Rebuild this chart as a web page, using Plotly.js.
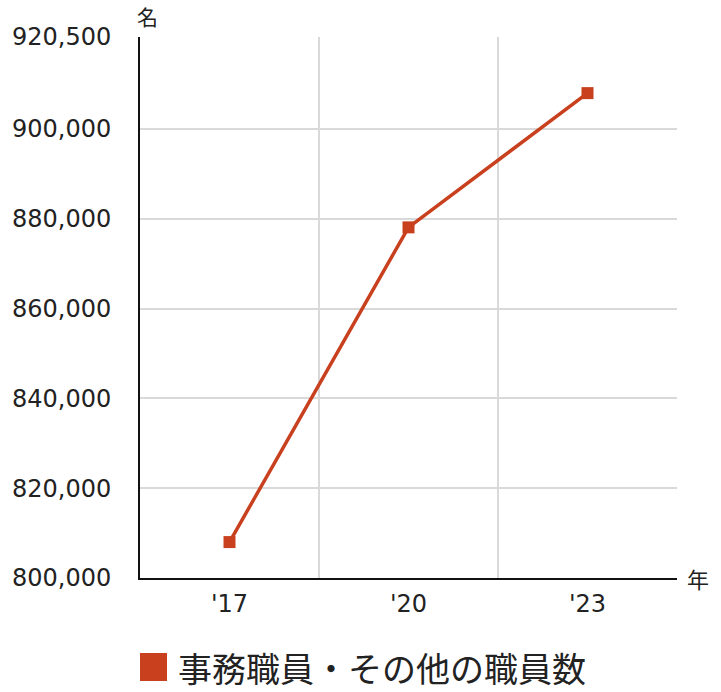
<!DOCTYPE html>
<html>
<head>
<meta charset="utf-8">
<script src="https://cdn.plot.ly/plotly-3.0.1.min.js"></script>
<style>
  html, body { margin: 0; padding: 0; background: #fff; }
  #plot { width: 721px; height: 692px; }
</style>
</head>
<body>
<div id="plot"></div>
<script>
const years = ["'17", "'20", "'23"];
const staff = [808000, 878100, 908000];
const yTicks = [800000, 820000, 840000, 860000, 880000, 900000, 920500];
const seriesName = '事務職員・その他の職員数';

const RED = 'rgb(200, 64, 30)';
const FONT = '"Noto Sans CJK JP", "Noto Sans", sans-serif';
const NUM_FONT = '"DejaVu Sans", sans-serif';

const xIdx = years.map((_, i) => i);

const trace = {
  x: xIdx,
  y: staff,
  name: seriesName,
  mode: 'lines+markers',
  type: 'scatter',
  line: { color: RED, width: 3.5 },
  marker: { color: RED, size: 12, symbol: 'square' },
  showlegend: false,
  hoverinfo: 'skip',
};

// plot area is 541px tall, legend sits below it
const PH = 541;

const layout = {
  width: 721,
  height: 692,
  margin: { l: 140, r: 44, t: 37, b: 114 },
  paper_bgcolor: '#fff',
  plot_bgcolor: '#fff',
  font: { family: FONT, size: 24, color: '#222' },
  showlegend: false,
  xaxis: {
    range: [-0.5, 2.5],
    tickvals: xIdx,
    ticktext: years,
    tickfont: { family: NUM_FONT, size: 24, color: '#222' },
    showgrid: false,
    zeroline: false,
    showline: true,
    linecolor: '#111',
    linewidth: 2,
    ticks: '',
    ticklabelstandoff: 3,
    minor: {
      tickvals: [0.5, 1.5, 2.5],
      showgrid: true,
      gridcolor: '#d9d9d9',
      gridwidth: 2,
      ticks: '',
    },
    fixedrange: true,
  },
  yaxis: {
    range: [800000, 920500],
    tickvals: yTicks,
    tickformat: ',',
    tickfont: { family: NUM_FONT, size: 24, color: '#222' },
    showgrid: true,
    gridcolor: '#d9d9d9',
    gridwidth: 2,
    zeroline: false,
    showline: true,
    linecolor: '#111',
    linewidth: 2,
    ticks: '',
    ticklabelstandoff: 22,
    fixedrange: true,
  },
  shapes: [
    {
      type: 'rect', xref: 'paper', yref: 'paper',
      x0: 0, x1: 27 / 537, y0: -75 / PH, y1: -103 / PH,
      fillcolor: RED, line: { width: 0 },
    },
  ],
  annotations: [
    {
      text: '名', xref: 'paper', yref: 'paper', x: 0, y: 1,
      xanchor: 'center', yanchor: 'bottom', yshift: 4, xshift: 7,
      showarrow: false, font: { size: 21, color: '#222' },
    },
    {
      text: '年', xref: 'paper', yref: 'paper', x: 1, y: 0,
      xanchor: 'left', yanchor: 'middle', xshift: 8,
      showarrow: false, font: { size: 22, color: '#222' },
    },
    {
      text: seriesName, xref: 'paper', yref: 'paper', x: 36 / 537, y: -89 / PH,
      xanchor: 'left', yanchor: 'middle',
      showarrow: false, font: { size: 34, color: '#222' },
    },
  ],
};

const config = { displayModeBar: false, staticPlot: true };

Plotly.newPlot('plot', [trace], layout, config);
</script>
</body>
</html>
